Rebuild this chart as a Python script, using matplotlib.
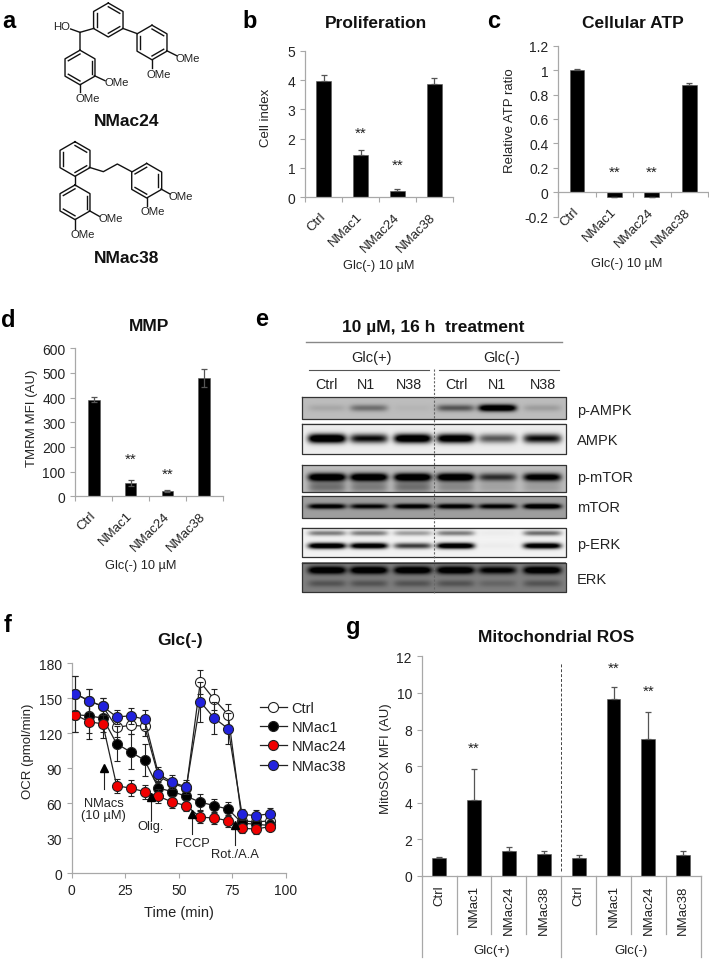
import numpy as np
import matplotlib
matplotlib.use("Agg")
import matplotlib.pyplot as plt
from matplotlib.lines import Line2D

plt.rcParams['font.family'] = ['Liberation Sans', 'DejaVu Sans']
plt.rcParams['text.color'] = '#222222'
plt.rcParams['axes.labelcolor'] = '#222222'
plt.rcParams['xtick.labelcolor'] = '#222222'
plt.rcParams['ytick.labelcolor'] = '#222222'

W, H = 709, 962
GREY = '#a8a8a8'

# data
groups = ['Ctrl', 'NMac1', 'NMac24', 'NMac38']

prolif = [3.95, 1.45, 0.22, 3.87]
prolif_err = [0.23, 0.18, 0.07, 0.20]

atp = [1.0, -0.035, -0.035, 0.875]
atp_err = [0.012, 0.004, 0.004, 0.022]

mmp = [392, 55, 22, 480]
mmp_err = [10, 12, 3, 38]

ros = [1.0, 4.15, 1.38, 1.22, 1.0, 9.65, 7.5, 1.12]
ros_err = [0.02, 1.7, 0.2, 0.17, 0.12, 0.65, 1.45, 0.27]

time_min = [1.5, 8, 14.5, 21, 27.5, 34, 40.5, 47, 53.5, 60, 66.5, 73, 79.5, 86, 92.5]
ocr_ctrl = [154, 148, 143, 125, 127, 126, 83, 77, 73, 164, 149, 136, 45, 44, 45]
ocr_n1 = [136, 135, 133, 111, 104, 97, 73, 70, 66, 61, 58, 55, 43, 42, 41]
ocr_n24 = [136, 130, 128, 75, 73, 70, 66, 61, 58, 48, 47.5, 45, 38.5, 38, 40]
ocr_n38 = [154, 148, 143, 134, 135, 132, 85, 78, 74, 147, 133, 124, 50.5, 49.5, 51]
err_ctrl = [15, 10, 7, 8, 8, 8, 5, 5, 5, 10, 9, 9, 5, 5, 5]
err_n1 = [15, 15, 12, 15, 15, 14, 8, 7, 6, 7, 6, 6, 5, 5, 4]
err_n24 = [15, 15, 12, 6, 7, 6, 6, 5, 5, 5, 5, 5, 4, 4, 3]
err_n38 = [15, 10, 7, 6, 7, 8, 6, 6, 6, 17, 14, 13, 5, 5, 5]

lane_names = ['Ctrl', 'N1', 'N38', 'Ctrl', 'N1', 'N38']
blot_names = ['p-AMPK', 'AMPK', 'p-mTOR', 'mTOR', 'p-ERK', 'ERK']
# darkness of each band per lane, read by eye from the blots
pampk_band = [0.08, 0.3, 0.03, 0.4, 1.0, 0.12]
ampk_band = [1.0, 0.7, 0.95, 0.9, 0.45, 0.7]
pmtor_band = [1.0, 1.0, 1.0, 1.0, 0.55, 0.85]
pmtor_smear = [0.3, 0.25, 0.3, 0.2, 0.1, 0.12]
mtor_band = [0.85, 0.75, 0.85, 0.85, 0.8, 1.0]
perk_low = [0.95, 0.9, 0.55, 0.95, 0.02, 0.9]
perk_up = [0.35, 0.35, 0.25, 0.35, 0.02, 0.4]
erk_up = [1.0, 1.0, 1.0, 1.0, 0.8, 1.0]
erk_low = [0.25, 0.25, 0.25, 0.25, 0.15, 0.25]


def px_axes(fig, left, right, top, bottom):
    return fig.add_axes([left / W, 1 - bottom / H, (right - left) / W, (bottom - top) / H])


def style_axes(ax):
    for s in ['top', 'right']:
        ax.spines[s].set_visible(False)
    for s in ['left', 'bottom']:
        ax.spines[s].set_color(GREY)
        ax.spines[s].set_linewidth(0.9)
    ax.tick_params(axis='both', which='major', color=GREY, length=3.5, width=0.8, labelsize=10)


def bar_panel(ax, vals, errs, width, stars, ylim, yticks, ylabels, ylabel, label_pad, label_y, both=False):
    x = np.arange(len(vals)) + 0.5
    vals = np.array(vals)
    errs = np.array(errs)
    if both:
        yerr = [errs, errs]
    else:
        # only the half that leaves the bar shows in the reference
        yerr = [np.where(vals < 0, errs, 0), np.where(vals < 0, 0, errs)]
    ax.bar(x, vals, width=width, color='black', edgecolor='#555555', linewidth=0.4,
           yerr=yerr, ecolor='#555555', error_kw=dict(elinewidth=0.9, capsize=2.5, capthick=0.9))
    ax.set_xlim(0, len(vals))
    ax.set_ylim(*ylim)
    ax.set_yticks(yticks)
    ax.set_yticklabels(ylabels)
    ax.set_ylabel(ylabel, fontsize=9.5, labelpad=label_pad, y=label_y)
    style_axes(ax)
    ax.set_xticks(np.arange(len(vals) + 1))
    ax.set_xticklabels([])
    for sx, sy in stars:
        ax.text(sx, sy, '**', ha='center', va='center', fontsize=11)


def rotated_labels(ax, labels, pad=13):
    # names at 45 degrees under the axis, anchored on their right end
    for i, lab in enumerate(labels):
        ax.annotate(lab, xy=(i + 0.38, 0), xytext=(0, -pad), textcoords='offset pixels',
                    rotation=45, ha='right', va='top', rotation_mode='anchor', fontsize=9.5,
                    annotation_clip=False)


fig = plt.figure(figsize=(W / 100, H / 100), dpi=100)

# b
ax_b = px_axes(fig, 305.3, 452.7, 51.7, 198.3)
bar_panel(ax_b, prolif, prolif_err, 0.4, [(1.5, 2.2), (2.5, 1.12)], (0, 5), range(6),
          ['0', '1', '2', '3', '4', '5'], 'Cell index', 11.5, 0.548)
rotated_labels(ax_b, groups)

# c
ax_c = px_axes(fig, 558.3, 708, 46.7, 217.7)
bar_panel(ax_c, atp, atp_err, 0.4, [(1.5, 0.165), (2.5, 0.165)], (-0.2, 1.2),
          [-0.2, 0, 0.2, 0.4, 0.6, 0.8, 1, 1.2], ['-0.2', '0', '0.2', '0.4', '0.6', '0.8', '1', '1.2'],
          'Relative ATP ratio', 6, 0.565)
ax_c.spines['bottom'].set_position(('data', 0))
rotated_labels(ax_c, groups)

# d
ax_d = px_axes(fig, 75.3, 222.7, 349.3, 497.3)
bar_panel(ax_d, mmp, mmp_err, 0.32, [(1.5, 152), (2.5, 93)], (0, 600), range(0, 601, 100),
          [str(v) for v in range(0, 601, 100)], 'TMRM MFI (AU)', 3, 0.531, both=True)
rotated_labels(ax_d, groups)

# f
ax_f = px_axes(fig, 71.7, 286, 664.3, 874.3)
series = [(ocr_ctrl, err_ctrl, 'white'), (ocr_n1, err_n1, 'black'),
          (ocr_n24, err_n24, '#f00000'), (ocr_n38, err_n38, '#2222dd')]
handles = []
for i, (vals, errs, col) in enumerate(series):
    ax_f.errorbar(time_min, vals, yerr=errs, color='#222222', elinewidth=0.8, capsize=2, capthick=0.8,
                  linewidth=0.9, marker='o', markersize=7.2, markerfacecolor=col,
                  markeredgecolor='#222222', markeredgewidth=0.8, zorder=3 + i)
    handles.append(Line2D([], [], color='#222222', linewidth=0.9, marker='o', markersize=7.2,
                          markerfacecolor=col, markeredgecolor='#222222', markeredgewidth=0.8))
ax_f.set_xlim(0, 100)
ax_f.set_ylim(0, 180)
ax_f.set_xticks(range(0, 101, 25))
ax_f.set_yticks(range(0, 181, 30))
ax_f.set_xlabel('Time (min)', fontsize=10.5, labelpad=6)
ax_f.set_ylabel('OCR (pmol/min)', fontsize=9.5, labelpad=3.5, y=0.587)
style_axes(ax_f)

# treatment arrows on the respiration trace
for ax_x, tip, tail, lab_y, lab in [(15, 90, 72, 55, 'NMacs\n(10 µM)'), (37, 65, 46, 40.5, 'Olig.'),
                                    (56.2, 51, 33.5, 26, 'FCCP'), (76, 41, 24, 16.7, 'Rot./A.A')]:
    ax_f.plot([ax_x, ax_x], [tail, tip], color='#222222', linewidth=0.8, zorder=8)
    ax_f.plot([ax_x], [tip], marker='^', color='black', markersize=5.5, zorder=8)
    ax_f.text(ax_x, lab_y, lab, ha='center', va='center', fontsize=9.3, zorder=9, linespacing=1.05)

fig.legend(handles, groups, loc='upper left', bbox_to_anchor=(260 / W, 1 - 702 / H), frameon=False,
           fontsize=10.5, handlelength=1.85, handletextpad=0.3, labelspacing=0.36, borderpad=0, borderaxespad=0)

# g
ax_g = px_axes(fig, 421.7, 700.7, 657.3, 877)
bar_panel(ax_g, ros, ros_err, 0.4, [(1.5, 7.0), (5.5, 11.4), (6.5, 10.1)], (0, 12), range(0, 13, 2),
          [str(v) for v in range(0, 13, 2)], 'MitoSOX MFI (AU)', 3, 0.54)
ax_g.tick_params(axis='x', length=0)
ax_g.plot([4, 4], [0.3, 11.7], color='#444444', linewidth=0.7, linestyle=(0, (3, 2)))
for i in range(9):
    low = 958 if i % 4 == 0 else 935
    ax_g.plot([i, i], [0, -(low - 877) / (219.7 / 12)], color=GREY, linewidth=0.9, clip_on=False)
for i, lab in enumerate(groups + groups):
    ax_g.text(i + 0.5, -0.45, lab, rotation=90, ha='center', va='top', fontsize=9.5)
ax_g.text(2, -4.04, 'Glc(+)', ha='center', va='center', fontsize=9.5)
ax_g.text(6, -4.04, 'Glc(-)', ha='center', va='center', fontsize=9.5)

# overlay in picture pixels: titles, panel letters, blots, structures
ov = fig.add_axes([0, 0, 1, 1], zorder=-1)
ov.set_axis_off()


def put(x, y, s, size=9.5, bold=False, **kw):
    ov.text(x, y, s, fontsize=size, fontweight='bold' if bold else 'normal', ha=kw.pop('ha', 'center'),
            va='center', **kw)


for x, y, s in [(9, 22, 'a'), (250, 22, 'b'), (494, 22, 'c'), (8, 321, 'd'), (262, 320, 'e'),
                (8, 626, 'f'), (353, 628, 'g')]:
    put(x, y, s, size=17, bold=True, color='black')
for x, y, s in [(376, 23, 'Proliferation'), (633, 24, 'Cellular ATP'), (149, 327, 'MMP'),
                (180, 641, 'Glc(-)'), (555.7, 638, 'Mitochondrial ROS')]:
    put(x, y, s, size=12.5, bold=True, color='#111111')
for x, y in [(379, 265.7), (627, 264), (140.7, 565.7)]:
    put(x, y, 'Glc(-) 10 µM', size=9.2)

# e: western blots
put(433, 328, '10 µM, 16 h  treatment', size=12.5, bold=True, color='#111111')
ov.plot([306, 562], [343, 343], color='#888888', linewidth=1.0)
ov.plot([309, 429], [371, 371], color='#555555', linewidth=0.8)
ov.plot([439, 559], [371, 371], color='#555555', linewidth=0.8)
put(372, 358, 'Glc(+)', size=10.5)
put(502, 358, 'Glc(-)', size=10.5)
lane_x = [326, 366, 409, 456, 497, 543]
band_x = [327, 369, 413, 456, 498, 543]
for x, s in zip(lane_x, lane_names):
    put(x, 385, s, size=10.3)

blot_left, blot_right = 302.3, 566.3
blot_rows = [
    (398.3, 420.3, 411, 0.74, [(pampk_band, 0.5, 0.16)]),
    (425, 455.3, 441, 0.93, [(ampk_band, 0.5, 0.15)]),
    (466, 492.7, 478, 0.74, [(pmtor_band, 0.45, 0.15), (pmtor_smear, 0.82, 0.22)]),
    (497.3, 519, 508, 0.62, [(mtor_band, 0.47, 0.12)]),
    (529, 558.3, 545, 0.95, [(perk_low, 0.63, 0.1), (perk_up, 0.2, 0.09)]),
    (564, 593.3, 580, 0.5, [(erk_up, 0.27, 0.13), (erk_low, 0.72, 0.12)]),
]
xx = np.linspace(blot_left, blot_right, 264)
for (top, bottom, lab_y, bg, bands), name in zip(blot_rows, blot_names):
    yy = np.linspace(0, 1, int(bottom - top) * 2)
    img = np.ones((len(yy), len(xx)))
    for darks, yc, sig in bands:
        for lx, d in zip(band_x, darks):
            prof_x = np.exp(-((xx - lx) / 19.0) ** 6)
            prof_y = np.exp(-((yy - yc) / sig) ** 2)
            img -= 1.4 * d * np.outer(prof_y, prof_x)
    img = np.clip(img, 0, 1) * bg
    ov.imshow(img, cmap='gray', vmin=0, vmax=1, aspect='auto', interpolation='bilinear',
              extent=(blot_left, blot_right, bottom, top), zorder=1)
    ov.plot([blot_left, blot_right, blot_right, blot_left, blot_left], [top, top, bottom, bottom, top],
            color='#333333', linewidth=0.9, zorder=2)
    put(577, lab_y, name, size=10.5, ha='left')
ov.plot([434, 434], [370, 595], color='#666666', linewidth=0.8, linestyle=(0, (2, 1.5)), zorder=3)


# a: chemical structures
def ring(cx, cy, r, doubles):
    ang = np.deg2rad(np.arange(-90, 270, 60))
    vx = cx + r * np.cos(ang)
    vy = cy + r * np.sin(ang)
    ov.plot(np.append(vx, vx[0]), np.append(vy, vy[0]), color='#111111', linewidth=1.0)
    for i in doubles:
        j = (i + 1) % 6
        ix = cx + (vx[[i, j]] - cx) * 0.78
        iy = cy + (vy[[i, j]] - cy) * 0.78
        ov.plot(ix, iy, color='#111111', linewidth=1.0)


def bond(pts):
    pts = np.array(pts) / 3.0
    ov.plot(pts[:, 0], pts[:, 1], color='#111111', linewidth=1.0)


ring(108.3, 21, 17, [0, 2, 4])
ring(152, 43.5, 17.3, [0, 2, 4])
ring(80, 68.5, 17.3, [1, 3, 5])
bond([(282, 88), (240, 100), (240, 152)])
bond([(368, 88), (412, 104)])
bond([(212, 90), (240, 100)])
bond([(283, 230), (315, 245)])
bond([(240, 256), (240, 280)])
bond([(500, 155), (530, 170)])
bond([(456, 182), (456, 208)])
put(62, 27.5, 'HO', size=8.2)
put(117, 83, 'OMe', size=8.2)
put(88, 98.5, 'OMe', size=8.2)
put(188, 59, 'OMe', size=8.2)
put(159, 75, 'OMe', size=8.2)
put(127, 122, 'NMac24', size=12.5, bold=True, color='#111111')

ring(75, 160, 17.3, [0, 2, 4])
ring(146.7, 181.7, 17.3, [1, 3, 5])
ring(75, 203.3, 17.3, [1, 3, 5])
bond([(268, 505), (310, 518), (352, 495), (395, 518)])
bond([(225, 530), (225, 558)])
bond([(483, 570), (510, 585)])
bond([(440, 596), (440, 620)])
bond([(268, 635), (298, 652)])
bond([(225, 660), (225, 690)])
put(181, 196.5, 'OMe', size=8.2)
put(153, 212, 'OMe', size=8.2)
put(111, 219.5, 'OMe', size=8.2)
put(83, 235, 'OMe', size=8.2)
put(127, 259, 'NMac38', size=12.5, bold=True, color='#111111')

ov.set_xlim(0, W)
ov.set_ylim(H, 0)

fig.savefig('out.png', dpi=100)
